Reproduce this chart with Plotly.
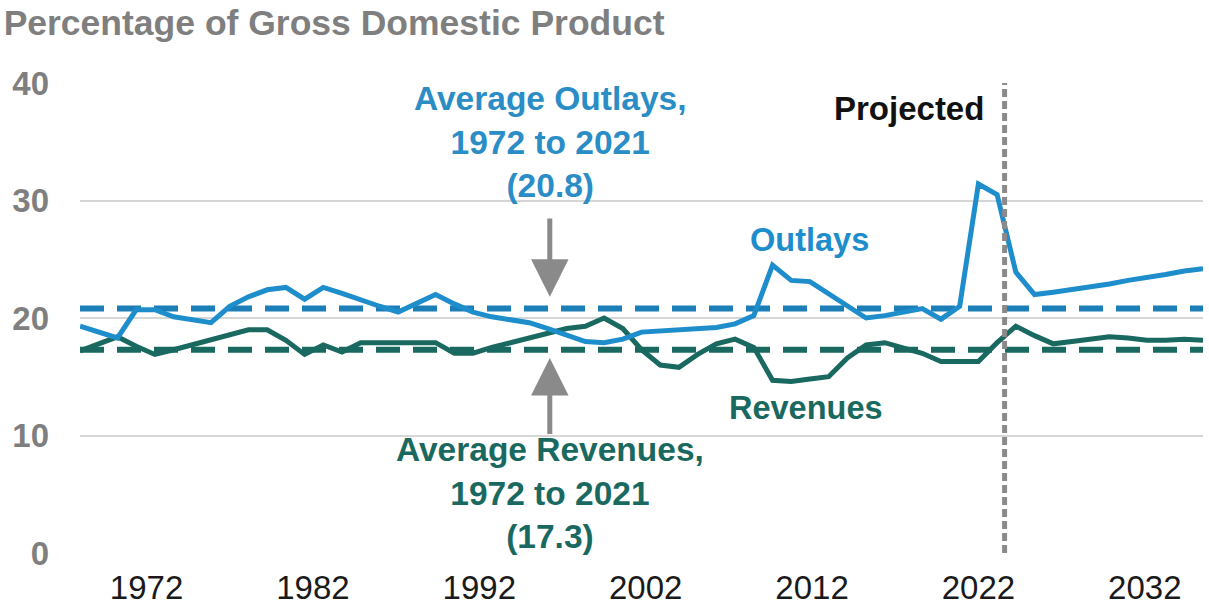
import plotly.graph_objects as go

# Federal outlays and revenues as a share of GDP, fiscal years 1972-2032
years = list(range(1972, 2033))

outlays = [
    19.3, 18.8, 18.3, 20.7, 20.7, 20.1, 19.9, 19.6, 21.0, 21.8,   # 1972-1981
    22.4, 22.6, 21.6, 22.6, 22.1, 21.5, 21.0, 20.5, 21.2, 22.0,   # 1982-1991
    21.2, 20.5, 20.1, 19.8, 19.6, 19.1, 18.5, 18.0, 17.9, 18.2,   # 1992-2001
    18.8, 18.9, 18.9, 19.0, 19.2, 19.5, 20.2, 24.5, 23.2, 23.1,   # 2002-2011
    22.1, 21.0, 20.0, 20.2, 20.5, 20.8, 19.9, 21.0, 31.4, 30.5,   # 2012-2021
    23.9, 22.0, 22.2, 22.4, 22.6, 22.9, 23.2, 23.4, 23.7, 24.0,   # 2022-2031
    24.2,                                                         # 2032
]

revenues = [
    17.2, 17.8, 18.4, 17.6, 16.9, 17.3, 17.7, 18.2, 18.6, 19.0,   # 1972-1981
    19.0, 18.1, 16.9, 17.7, 17.1, 17.9, 17.9, 17.9, 17.8, 17.9,   # 1982-1991
    17.0, 17.0, 17.5, 17.9, 18.3, 18.8, 19.1, 19.3, 20.0, 19.1,   # 1992-2001
    17.3, 16.0, 15.8, 16.9, 17.8, 18.2, 17.5, 14.7, 14.6, 14.8,   # 2002-2011
    15.0, 16.6, 17.7, 17.9, 17.5, 17.0, 16.3, 16.3, 16.3, 17.9,   # 2012-2021
    19.3, 18.5, 17.8, 18.0, 18.2, 18.4, 18.3, 18.1, 18.1, 18.2,   # 2022-2031
    18.1,                                                         # 2032
]

avg_outlays = 20.8    # average, 1972 to 2021
avg_revenues = 17.3   # average, 1972 to 2021
projection_start = 2021.4

tick_years = [1972, 1982, 1992, 2002, 2012, 2022, 2032]
y_ticks = [0, 10, 20, 30, 40]

FONT = "Liberation Sans, Arial, Helvetica, sans-serif"
OUTLAY_COLOR = "#1e8dcb"
OUTLAY_AVG_COLOR = "#1b7eb6"
REVENUE_COLOR = "#1a6960"
GREY = "#8a8a8a"
TEXT_GREY = "#7f7f7f"
GRID = "#d6d6d6"

fig = go.Figure()

# Dashed averages span the whole period
fig.add_trace(go.Scatter(
    x=[years[0], years[-1]], y=[avg_outlays, avg_outlays], mode="lines",
    line=dict(color=OUTLAY_AVG_COLOR, width=6, dash="24px,13px"),
    hoverinfo="skip", showlegend=False,
))
fig.add_trace(go.Scatter(
    x=[years[0], years[-1]], y=[avg_revenues, avg_revenues], mode="lines",
    line=dict(color=REVENUE_COLOR, width=6, dash="24px,13px"),
    hoverinfo="skip", showlegend=False,
))

fig.add_trace(go.Scatter(
    x=years, y=revenues, mode="lines", name="Revenues",
    line=dict(color=REVENUE_COLOR, width=5), showlegend=False,
))
fig.add_trace(go.Scatter(
    x=years, y=outlays, mode="lines", name="Outlays",
    line=dict(color=OUTLAY_COLOR, width=5), showlegend=False,
))

# Label axis for the year ticks
fig.add_trace(go.Scatter(
    x=[1968.0, 2035.5], y=[None, None], xaxis="x2", mode="lines",
    hoverinfo="skip", showlegend=False,
))

# Boundary between actual and projected values
fig.add_shape(
    type="line", xref="x", yref="y",
    x0=projection_start, x1=projection_start, y0=0, y1=40,
    line=dict(color=GREY, width=5, dash="8px,4px"), layer="above",
)

annotations = [
    dict(x=2020.4, y=37.8, text="<b>Projected</b>", xanchor="right",
         yanchor="middle", font=dict(size=33, color="#111111")),
    dict(x=2011.0, y=26.6, text="<b>Outlays</b>", xanchor="center",
         yanchor="middle", font=dict(size=32.5, color=OUTLAY_COLOR)),
    dict(x=2010.8, y=12.3, text="<b>Revenues</b>", xanchor="center",
         yanchor="middle", font=dict(size=32.5, color=REVENUE_COLOR)),
    dict(x=1997.1, y=35.0,
         text="<b>Average Outlays,<br>1972 to 2021<br>(%.1f)</b>" % avg_outlays,
         xanchor="center", yanchor="middle", align="center",
         font=dict(size=33.5, color="#2a8dc6")),
    dict(x=1997.1, y=5.1,
         text="<b>Average Revenues,<br>1972 to 2021<br>(%.1f)</b>" % avg_revenues,
         xanchor="center", yanchor="middle", align="center",
         font=dict(size=33.5, color=REVENUE_COLOR)),
]
for a in annotations:
    a.update(xref="x", yref="y", showarrow=False)
    a["font"]["family"] = FONT

# Arrows pointing at the two average lines
for tip, tail in [(21.8, 28.6), (16.6, 10.0)]:
    annotations.append(dict(
        x=1997.1, y=tip, ax=1997.1, ay=tail, xref="x", yref="y",
        axref="x", ayref="y", text="", showarrow=True,
        arrowhead=2, arrowsize=1.5, arrowwidth=5, arrowcolor=GREY,
    ))

fig.update_layout(
    width=1209, height=608,
    margin=dict(l=80, r=6, t=83, b=55, autoexpand=False),
    paper_bgcolor="white", plot_bgcolor="white",
    font=dict(family=FONT),
    title=dict(
        text="Percentage of Gross Domestic Product",
        x=0.003, xanchor="left", xref="container",
        y=1 - 23 / 608, yanchor="middle", yref="container",
        font=dict(size=35.5, color=TEXT_GREY, family=FONT, weight="bold"),
    ),
    xaxis=dict(
        range=[years[0], years[-1]], showticklabels=False, showgrid=False,
        zeroline=False, showline=False, ticks="", automargin=False,
    ),
    xaxis2=dict(
        overlaying="x", side="bottom", anchor="y",
        range=[1968.0, 2035.5], tickvals=tick_years,
        ticktext=[str(t) for t in tick_years],
        showgrid=False, zeroline=False, showline=False, ticks="",
        tickfont=dict(size=33, color="#1a1a1a", family=FONT),
        ticklabelstandoff=12, automargin=False,
    ),
    yaxis=dict(
        range=[0, 40], tickvals=y_ticks, showgrid=True, gridcolor=GRID,
        gridwidth=2, zeroline=False, showline=False, ticks="",
        tickfont=dict(size=33, color=TEXT_GREY, family=FONT, weight="bold"),
        ticklabelstandoff=30, automargin=False,
    ),
    annotations=annotations,
    hovermode=False,
)

fig.write_html("out.html")
